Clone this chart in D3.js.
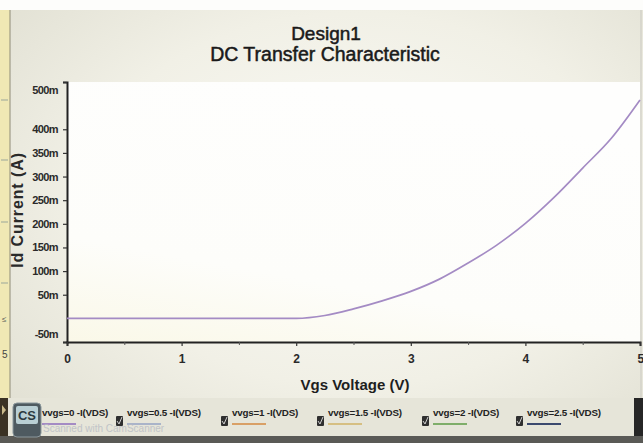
<!DOCTYPE html>
<html>
<head>
<meta charset="utf-8">
<script src="https://cdn.jsdelivr.net/npm/d3@7"></script>
<style>
  html, body { margin: 0; padding: 0; background: #ecebe0; }
  svg { display: block; }
  text { font-family: "Liberation Sans", Arial, sans-serif; }
</style>
</head>
<body>
<svg id="chart" width="643" height="443"></svg>
<script>
// Gate sweep (V) and drain current (A) of the plotted trace
const vgs = [0, 0.5, 1, 1.5, 2, 2.25, 2.5, 2.75, 3, 3.25, 3.5, 3.75, 4, 4.25, 4.5, 4.75, 5];
const idCurrent = [0, 0, 0, 0, 0, 0.006, 0.020, 0.037, 0.057, 0.083, 0.117, 0.155, 0.201, 0.256, 0.318, 0.381, 0.462];

// Axis ticks
const xTicks = [0, 1, 2, 3, 4, 5];
const xMinorTicks = [0.5, 1.5, 2.5, 3.5, 4.5];
const yTicks = [-0.05, 0.05, 0.1, 0.15, 0.2, 0.25, 0.3, 0.35, 0.4, 0.5];

// Legend
const legendLabels = ["vvgs=0 -I(VDS)", "vvgs=0.5 -I(VDS)", "vvgs=1 -I(VDS)", "vvgs=1.5 -I(VDS)", "vvgs=2 -I(VDS)", "vvgs=2.5 -I(VDS)"];
const legendColors = ["#a48bc4", "#aab4c9", "#d9a066", "#d6bf82", "#7fae6a", "#3c4a6e"];

const svg = d3.select("#chart");
const W = 643, H = 443;
const plot = { left: 67, right: 640, top: 82, bottom: 342 };

// ---- backdrop ----
const defs = svg.append("defs");
const bg = defs.append("radialGradient").attr("id", "bg")
  .attr("cx", "55%").attr("cy", "45%").attr("r", "70%");
bg.append("stop").attr("offset", "0%").attr("stop-color", "#fbfbf7");
bg.append("stop").attr("offset", "60%").attr("stop-color", "#f1f0e6");
bg.append("stop").attr("offset", "100%").attr("stop-color", "#e2e1d4");
svg.append("rect").attr("width", W).attr("height", H).attr("fill", "url(#bg)");
svg.append("rect").attr("width", W).attr("height", 10).attr("fill", "#fdfdfb");

const pg = defs.append("linearGradient").attr("id", "pbg")
  .attr("x1", "0").attr("y1", "1").attr("x2", "0.4").attr("y2", "0");
pg.append("stop").attr("offset", "0%").attr("stop-color", "#faf8e8");
pg.append("stop").attr("offset", "35%").attr("stop-color", "#fdfdfa");
pg.append("stop").attr("offset", "100%").attr("stop-color", "#fefefd");
svg.append("rect").attr("x", plot.left).attr("y", plot.top)
  .attr("width", plot.right - plot.left).attr("height", plot.bottom - plot.top)
  .attr("fill", "url(#pbg)");

// left window strip
svg.append("rect").attr("x", 0).attr("y", 10).attr("width", 10).attr("height", 388).attr("fill", "#f0e8b4");
svg.append("line").attr("x1", 10).attr("x2", 10).attr("y1", 10).attr("y2", 398).attr("stroke", "#8f8c78").attr("stroke-width", 1);
[100, 160, 222, 283].forEach(y => svg.append("line").attr("x1", 1).attr("x2", 8).attr("y1", y).attr("y2", y)
  .attr("stroke", "#9aa69a").attr("stroke-width", 1));
svg.append("text").attr("x", 2).attr("y", 322).attr("font-size", 8).attr("fill", "#555").text("\u2264");
svg.append("text").attr("x", 2).attr("y", 358).attr("font-size", 10).attr("fill", "#444").text("5");
// right window edge
svg.append("line").attr("x1", 641).attr("x2", 641).attr("y1", 10).attr("y2", 398).attr("stroke", "#c9c8c0").attr("stroke-width", 1);

// ---- titles ----
svg.append("text").attr("x", 326).attr("y", 40).attr("text-anchor", "middle")
  .attr("font-size", 19).attr("fill", "#1a1a1a").attr("stroke", "#1a1a1a").attr("stroke-width", 0.5)
  .text("Design1");
svg.append("text").attr("x", 325).attr("y", 61).attr("text-anchor", "middle")
  .attr("font-size", 19.5).attr("fill", "#1a1a1a").attr("stroke", "#1a1a1a").attr("stroke-width", 0.5)
  .text("DC Transfer Characteristic");

// ---- scales ----
const x = d3.scaleLinear().domain([0, 5]).range([plot.left, plot.right]);
const y = d3.scaleLinear().domain([-0.05, 0.5]).range([plot.bottom, plot.top]);

// ---- axes ----
const fmtM = d => Math.round(d * 1000) + "m";
const yAxis = svg.append("g").attr("transform", `translate(${plot.left},0)`)
  .call(d3.axisLeft(y).tickValues(yTicks).tickFormat(fmtM).tickSize(4).tickPadding(5));
yAxis.select(".domain").attr("stroke", "#222").attr("stroke-width", 2);
yAxis.selectAll(".tick line").attr("stroke", "#333").attr("stroke-width", 1.2);
yAxis.selectAll(".tick text").attr("font-size", 11).attr("font-weight", "bold")
  .attr("fill", "#2a2a2a").attr("letter-spacing", -0.6)
  .attr("dy", d => d === 0.5 ? "1.05em" : d === -0.05 ? "-0.45em" : "0.32em");

const xAxis = svg.append("g").attr("transform", `translate(0,${plot.bottom})`)
  .call(d3.axisBottom(x).tickValues(xTicks).tickFormat(d3.format("d")).tickSize(4).tickPadding(8));
xAxis.select(".domain").attr("stroke", "#222").attr("stroke-width", 2);
xAxis.selectAll(".tick line").attr("stroke", "#333").attr("stroke-width", 1.2);
xAxis.selectAll(".tick text").attr("font-size", 12).attr("font-weight", "bold").attr("fill", "#2a2a2a")
  .attr("text-anchor", d => d === 5 ? "end" : "middle")
  .attr("dx", d => d === 5 ? "0.3em" : 0);
svg.append("g").attr("transform", `translate(0,${plot.bottom})`)
  .call(d3.axisBottom(x).tickValues(xMinorTicks).tickFormat("").tickSize(3))
  .call(g => g.select(".domain").remove())
  .selectAll(".tick line").attr("stroke", "#555");

// axis titles
svg.append("text").attr("x", 355).attr("y", 390).attr("text-anchor", "middle")
  .attr("font-size", 15).attr("font-weight", "bold").attr("fill", "#1e1e1e")
  .text("Vgs Voltage (V)");
svg.append("text").attr("transform", "translate(23,210) rotate(-90)").attr("text-anchor", "middle")
  .attr("font-size", 16).attr("font-weight", "bold").attr("letter-spacing", 0.9).attr("fill", "#2a2a2a")
  .text("Id Current (A)");

// ---- trace ----
const line = d3.line()
  .x((d, i) => x(vgs[i]))
  .y(d => y(d))
  .curve(d3.curveMonotoneX);
svg.append("path").datum(idCurrent)
  .attr("d", line)
  .attr("fill", "none")
  .attr("stroke", legendColors[0])
  .attr("stroke-width", 1.7);

// ---- legend bar ----
svg.append("rect").attr("x", 0).attr("y", 398).attr("width", W).attr("height", 38).attr("fill", "#e6e5d9");
svg.append("rect").attr("x", 0).attr("y", 436).attr("width", W).attr("height", 7).attr("fill", "#5a5a56");
svg.append("rect").attr("x", 0).attr("y", 398).attr("width", 8).attr("height", 38).attr("fill", "#3a3224");
svg.append("path").attr("d", "M2,405 L6,410 L2,415 Z").attr("fill", "#c9b98a");
svg.append("rect").attr("x", 634).attr("y", 398).attr("width", 9).attr("height", 38).attr("fill", "#262626");

const legendX = [42, 127, 232, 328, 433, 527];
const legend = svg.append("g");
legendLabels.forEach((label, i) => {
  const lx = legendX[i];
  legend.append("rect").attr("x", lx - 11).attr("y", 416).attr("width", 7).attr("height", 10)
    .attr("fill", "#2f2f2f").attr("rx", 1);
  legend.append("path").attr("d", `M${lx - 10},421 L${lx - 8},424 L${lx - 5},417`)
    .attr("fill", "none").attr("stroke", "#cfcfcf").attr("stroke-width", 1);
  legend.append("text").attr("x", lx).attr("y", 416).attr("font-size", 9.8).attr("font-weight", "bold")
    .attr("fill", "#222").attr("letter-spacing", -0.2).text(label);
  legend.append("line").attr("x1", lx).attr("x2", lx + 34).attr("y1", 424).attr("y2", 424)
    .attr("stroke", legendColors[i]).attr("stroke-width", 2);
});

// scanner badge in the lower-left corner
const badge = svg.append("g");
badge.append("rect").attr("x", 13).attr("y", 403).attr("width", 28).attr("height", 34).attr("rx", 4)
  .attr("fill", "#4e5a60").attr("stroke", "#8a979c").attr("stroke-width", 1);
badge.append("rect").attr("x", 16).attr("y", 406).attr("width", 22).attr("height", 18).attr("rx", 2)
  .attr("fill", "#b9cfd4");
badge.append("text").attr("x", 27).attr("y", 420).attr("text-anchor", "middle").attr("font-size", 13)
  .attr("font-weight", "bold").attr("fill", "#2c3a40").text("CS");
svg.append("text").attr("x", 43).attr("y", 432).attr("font-size", 10).attr("fill", "#b8bcc4")
  .attr("opacity", 0.8).text("Scanned with CamScanner");
</script>
</body>
</html>
